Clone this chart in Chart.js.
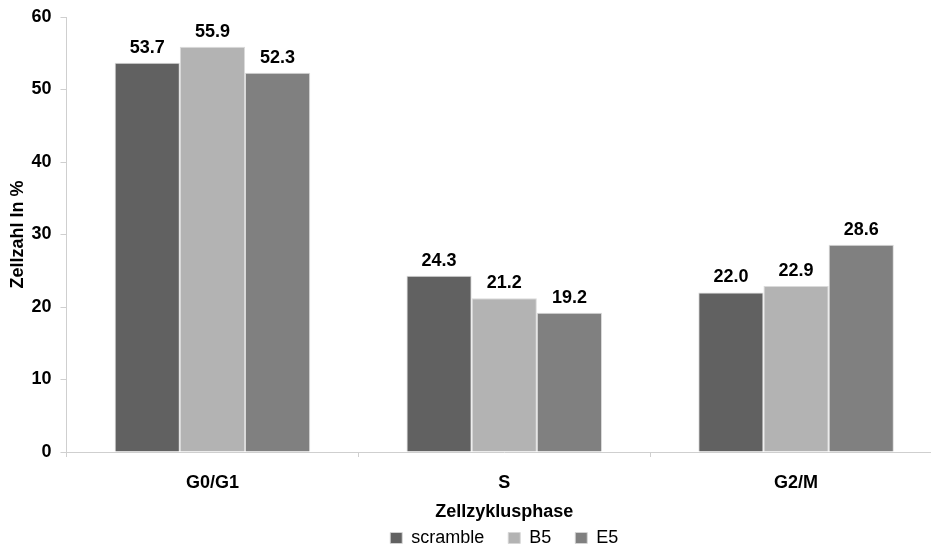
<!DOCTYPE html>
<html>
<head>
<meta charset="utf-8">
<script src="https://cdn.jsdelivr.net/npm/chart.js@4.4.0/dist/chart.umd.min.js"></script>
<style>
  html, body { margin: 0; padding: 0; background: #fff; overflow: hidden; }
  #wrap { width: 931px; height: 549px; overflow: hidden; position: relative; }
  #c { display: block; }
</style>
</head>
<body>
<div id="wrap"><canvas id="c" width="942" height="549" style="width:942px;height:549px"></canvas></div>
<script>
// Zellzyklusphasen und Anteile (%)
const phases   = ['G0/G1', 'S', 'G2/M'];
const scramble = [53.7, 24.3, 22.0];
const b5       = [55.9, 21.2, 22.9];
const e5       = [52.3, 19.2, 28.6];
const yMin = 0, yMax = 60, yStep = 10;

const FONT = '"Liberation Sans", Arial, Helvetica, sans-serif';
const FS = 18;
const axisGrey = '#cfcfcf';

// value labels above each bar
const valueLabels = {
  id: 'valueLabels',
  afterDatasetsDraw(chart) {
    const ctx = chart.ctx;
    ctx.save();
    ctx.font = 'bold ' + FS + 'px ' + FONT;
    ctx.fillStyle = '#000';
    ctx.textAlign = 'center';
    ctx.textBaseline = 'middle';
    chart.data.datasets.forEach((ds, i) => {
      chart.getDatasetMeta(i).data.forEach((bar, j) => {
        ctx.fillText(ds.data[j].toFixed(1), bar.x, bar.y - 15);
      });
    });
    ctx.restore();
  }
};

const barBorder = 'rgba(214,214,214,0.9)';

new Chart(document.getElementById('c'), {
  type: 'bar',
  data: {
    labels: phases,
    datasets: [
      { label: 'scramble', data: scramble, backgroundColor: '#616161', borderColor: barBorder, borderWidth: 1 },
      { label: 'B5',       data: b5,       backgroundColor: '#b3b3b3', borderColor: barBorder, borderWidth: 1 },
      { label: 'E5',       data: e5,       backgroundColor: '#808080', borderColor: barBorder, borderWidth: 1 }
    ]
  },
  options: {
    responsive: false,
    animation: false,
    devicePixelRatio: 1,
    categoryPercentage: 0.67,
    barPercentage: 1.0,
    layout: { padding: { top: 17, left: 3.2, right: 0, bottom: -8 } },
    plugins: {
      tooltip: { enabled: false },
      legend: {
        position: 'bottom',
        fullSize: false,
        labels: {
          boxWidth: 12,
          boxHeight: 11,
          padding: 24,
          color: '#000',
          font: { family: FONT, size: FS, weight: 'normal' }
        }
      }
    },
    scales: {
      x: {
        border: { color: axisGrey, width: 1 },
        grid: { offset: true, drawOnChartArea: false, tickLength: 5, color: axisGrey },
        ticks: { color: '#000', padding: 15.2, font: { family: FONT, size: FS, weight: 'bold' } },
        title: {
          display: true,
          text: 'Zellzyklusphase',
          color: '#000',
          font: { family: FONT, size: FS, weight: 'bold' },
          padding: { top: -7.8, bottom: -17.8 }
        }
      },
      y: {
        min: yMin,
        max: yMax,
        afterFit(scale) { scale.width = 63.3; },
        border: { color: axisGrey, width: 1 },
        grid: { drawOnChartArea: false, tickLength: 6, color: axisGrey },
        ticks: { stepSize: yStep, color: '#000', padding: 9, font: { family: FONT, size: FS, weight: 'bold', lineHeight: 0.8 } },
        title: {
          display: true,
          text: 'Zellzahl In %',
          color: '#000',
          font: { family: FONT, size: FS, weight: 'bold' },
          padding: { top: 4, bottom: 4 }
        }
      }
    }
  },
  plugins: [valueLabels]
});
</script>
</body>
</html>
